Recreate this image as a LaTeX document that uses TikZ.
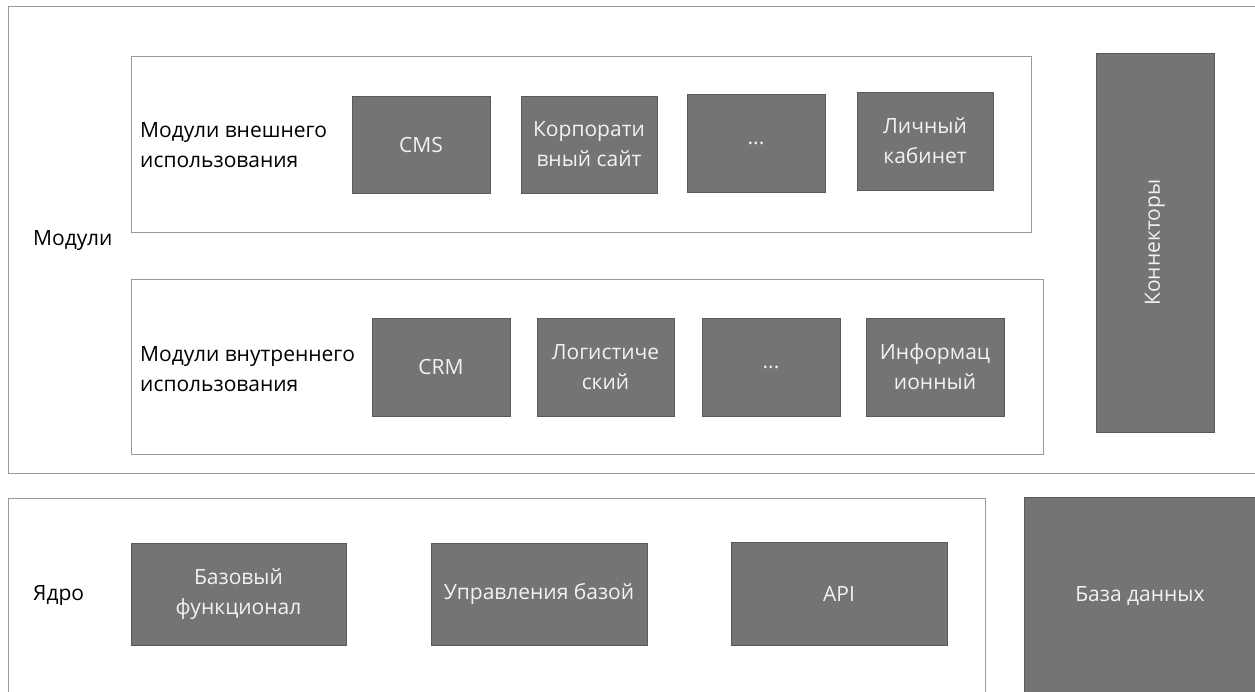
\documentclass[tikz,border=0pt]{standalone}
\usepackage{fontspec}
\setmainfont{Open Sans}
\definecolor{boxfill}{HTML}{747474}
\definecolor{boxline}{HTML}{5A5A5A}
\definecolor{frameline}{HTML}{9A9A9A}
\definecolor{boxtext}{HTML}{F2F2F2}
\tikzset{
  gbox/.style={draw=boxline, fill=boxfill, line width=1pt, text=boxtext,
    align=center, inner sep=2pt, font=\fontsize{21}{30}\selectfont},
  frame/.style={draw=frameline, line width=1pt},
  lbl/.style={anchor=west, align=left, inner sep=0pt, text=black,
    font=\fontsize{21}{30}\selectfont},
  btxt/.style={text=boxtext, inner sep=0pt, font=\fontsize{21}{30}\selectfont}
}
\begin{document}
\begin{tikzpicture}[x=1pt,y=-1pt]
\useasboundingbox (0,0) rectangle (1255,691);
\clip (0,0) rectangle (1255,691);
% frames
\draw[frame] (8,6) rectangle (1275,473);
\draw[frame] (131,56) rectangle (1031,232);
\draw[frame] (131,279) rectangle (1043,454);
\draw[frame] (8,498) rectangle (985,710);
% labels
\node[lbl] (lmod) at (33,241) {Модули};
\node[lbl] (lext) at (140,145.5) {Модули внешнего\\использования};
\node[lbl] (lint) at (140,369) {Модули внутреннего\\использования};
\node[lbl] (lcore) at (33,596) {Ядро};
% external modules
\node[gbox, minimum width=138, minimum height=97] (cms) at (421,144.5) {CMS};
\node[gbox, minimum width=136, minimum height=97] (corp) at (589,144.5) {Корпорати\\вный сайт};
\node[gbox, minimum width=138, minimum height=98] (dots1) at (756,143) {...};
\node[gbox, minimum width=136, minimum height=98] (cab) at (925,141) {Личный\\кабинет};
% internal modules
\node[gbox, minimum width=138, minimum height=98] (crm) at (441,367) {CRM};
\node[gbox, minimum width=137, minimum height=98] (log) at (605.5,367) {Логистиче\\ский};
\node[gbox, minimum width=138, minimum height=98] (dots2) at (771,367) {...};
\node[gbox, minimum width=138, minimum height=98] (info) at (935,367) {Информац\\ионный};
% connectors
\node[gbox, minimum width=118, minimum height=379] (conn) at (1155,242.5) {};
\node[btxt, rotate=90] (conntxt) at (conn.center) {Коннекторы};
% core
\node[gbox, minimum width=215, minimum height=102] (base) at (238.5,594) {Базовый\\функционал};
\node[gbox, minimum width=216, minimum height=102] (mgmt) at (539,594) {Управления базой};
\node[gbox, minimum width=216, minimum height=103] (api) at (839,593.5) {API};
% database
\draw[draw=boxline, fill=boxfill, line width=1pt] (1024,497) rectangle (1270,710);
\node[btxt] (db) at (1140,596) {База данных};
\end{tikzpicture}
\end{document}
